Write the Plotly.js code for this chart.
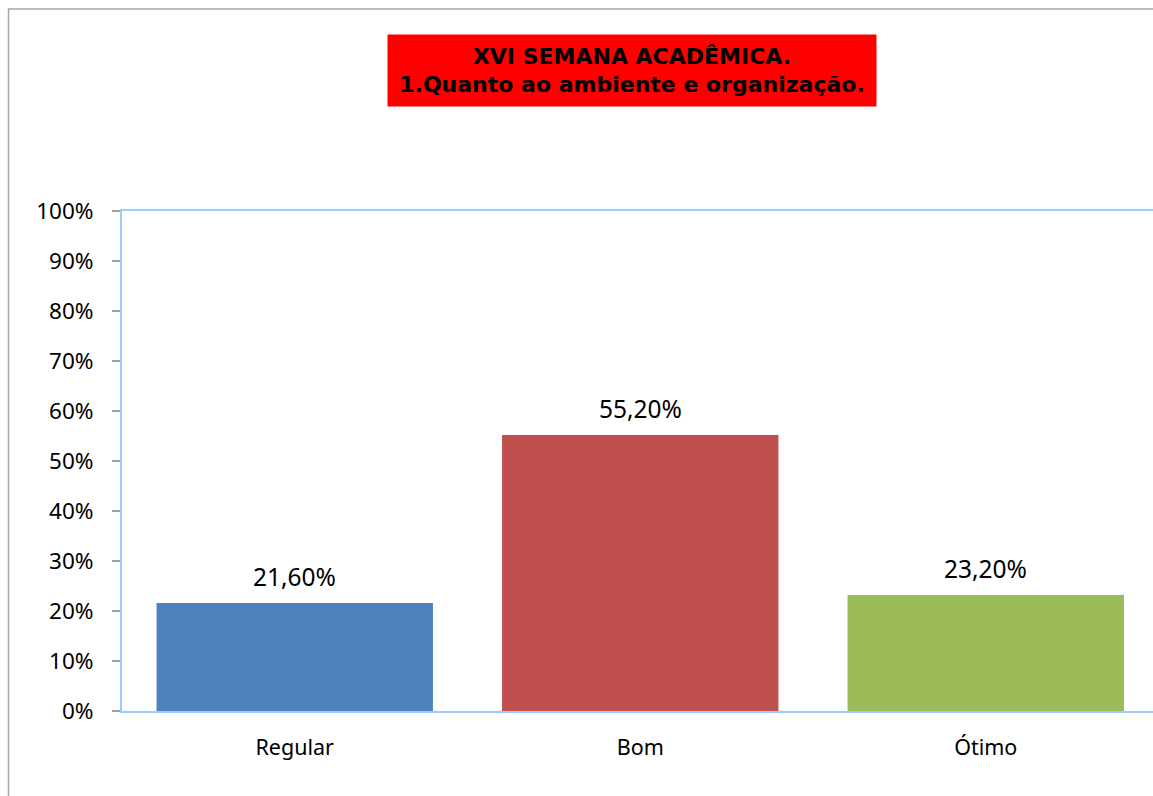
<!DOCTYPE html>
<html>
<head>
<meta charset="utf-8">
<script src="https://cdn.plot.ly/plotly-3.0.1.min.js"></script>
<style>html,body{margin:0;padding:0;background:#fff;}#chart{width:1153px;height:796px;}</style>
</head>
<body>
<div id="chart"></div>
<script>
const categories = ["Regular", "Bom", "Ótimo"];
const values = [0.216, 0.552, 0.232];
const barColors = ["#4F81BD", "#C0504D", "#9BBB59"];
const titleLines = ["XVI SEMANA ACADÊMICA.", "1.Quanto ao ambiente e organização."];
const yTickVals = [0, 0.1, 0.2, 0.3, 0.4, 0.5, 0.6, 0.7, 0.8, 0.9, 1.0];
const yTickText = ["0%", "10%", "20%", "30%", "40%", "50%", "60%", "70%", "80%", "90%", "100%"];

function fmt(v) { return (v * 100).toFixed(2).replace('.', ',') + '%'; }

const W = 1153, H = 796, L = 122, T = 211, B = 85;
const plotW = W - L, plotH = H - T - B;
const px2x = p => (p - L) / plotW;
const py2y = p => (H - B - p) / plotH;

const trace = {
  type: 'bar',
  x: categories,
  y: values,
  marker: { color: barColors, line: { width: 0 } },
  hoverinfo: 'none'
};

const labelAnns = categories.map((c, i) => ({
  x: c, y: values[i], xref: 'x', yref: 'y',
  text: fmt(values[i]), showarrow: false,
  yanchor: 'middle', yshift: 27,
  font: { family: 'Noto Sans', size: 24.5, color: '#000' }
}));

const titleAnn = {
  xref: 'paper', yref: 'paper', x: px2x(632), y: py2y(70.5),
  xanchor: 'center', yanchor: 'middle',
  text: '<b>' + titleLines.join('<br>') + '</b>',
  showarrow: false, bgcolor: '#FF0000', borderpad: 0,
  width: 488, height: 71, align: 'center',
  font: { family: 'DejaVu Sans', size: 22, color: '#000' }
};

const layout = {
  width: W, height: H,
  margin: { l: L, r: 0, t: T, b: B, pad: 0 },
  paper_bgcolor: '#fff', plot_bgcolor: '#fff',
  showlegend: false,
  bargap: 0.2,
  xaxis: {
    type: 'category', range: [-0.5, -0.5 + plotW / 345.5],
    showline: true, linecolor: '#99CCFF', linewidth: 2, mirror: true,
    showgrid: false, zeroline: false, ticks: '',
    ticklabelstandoff: 16,
    tickfont: { family: 'Noto Sans', size: 21.5, color: '#000' }
  },
  yaxis: {
    range: [0, 1], tickvals: yTickVals, ticktext: yTickText,
    showline: true, linecolor: '#99CCFF', linewidth: 2,
    showgrid: false, zeroline: false,
    ticks: 'outside', ticklen: 8, tickwidth: 1.5, tickcolor: '#A0A0A0',
    ticklabelstandoff: 14,
    tickfont: { family: 'Noto Sans', size: 22.5, color: '#000' }
  },
  shapes: [
    { type: 'line', xref: 'paper', yref: 'paper', x0: px2x(8), x1: px2x(1160), y0: py2y(9), y1: py2y(9), line: { color: '#A6A6A6', width: 1.5 } },
    { type: 'line', xref: 'paper', yref: 'paper', x0: px2x(8.5), x1: px2x(8.5), y0: py2y(9), y1: py2y(800), line: { color: '#A6A6A6', width: 1.5 } }
  ],
  annotations: [titleAnn].concat(labelAnns)
};

Plotly.newPlot('chart', [trace], layout, { displayModeBar: false, staticPlot: true });
</script>
</body>
</html>
